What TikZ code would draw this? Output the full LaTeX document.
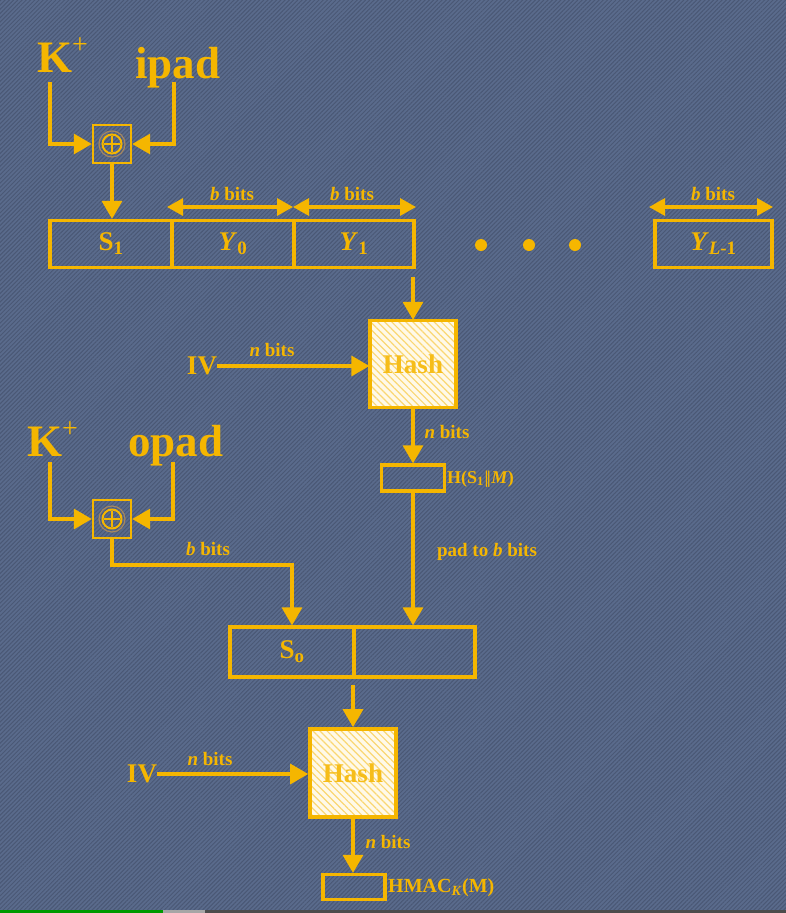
\documentclass[tikz,border=0pt]{standalone}
\usepackage{fontspec}
\setmainfont{Liberation Serif}
\usetikzlibrary{arrows.meta,patterns.meta,calc}
\definecolor{bgc}{RGB}{90,107,140}
\definecolor{hatc}{RGB}{74,88,117}
\definecolor{yel}{RGB}{245,182,0}
\definecolor{hashfill}{RGB}{255,249,232}
\definecolor{ringc}{RGB}{165,135,95}
\newcommand{\fs}[1]{\fontsize{#1}{#1}\selectfont}
\begin{document}
\begin{tikzpicture}[x=1pt,y=-1pt,
  ln/.style={draw=yel, line width=3.2pt},
  arr/.style={ln, -{Triangle[length=18pt,width=20pt]}},
  darr/.style={ln, {Triangle[length=16pt,width=17pt]}-{Triangle[length=16pt,width=17pt]}},
  lab/.style={text=yel, font=\bfseries\fs{19}, inner sep=0pt},
  big/.style={text=yel, font=\bfseries\fs{45}, inner sep=0pt},
  mid/.style={text=yel, font=\bfseries\fs{27}, inner sep=0pt},
  cell/.style={draw=yel, line width=3.2pt, inner sep=0pt, text=yel, font=\bfseries\fs{27}},
  xorbox/.style={draw=yel, line width=2.4pt, minimum width=38pt, minimum height=38pt, inner sep=0pt},
  hashbox/.style={draw=yel, line width=3.6pt, minimum width=86pt, minimum height=87pt, inner sep=0pt,
     preaction={fill=hashfill}, pattern={Lines[angle=-45,distance=5pt,line width=1.2pt]}, pattern color=yel!55,
     text=yel!90!white, font=\bfseries\fs{27}},
  dotc/.style={fill=yel, circle, inner sep=0pt, minimum size=12pt}
]
\useasboundingbox (0,0) rectangle (786,913);
% background
\fill[bgc] (0,0) rectangle (786,913);
\fill[pattern={Lines[angle=45,distance=3pt,line width=1pt]}, pattern color=hatc] (0,0) rectangle (786,913);
% progress bar
\fill[green!60!black] (0,910) rectangle (163,913);
\fill[gray!70] (163,910) rectangle (205,913);
\fill[black!70] (205,910) rectangle (786,913);

% ---------- inner part ----------
\node[big, anchor=base west] (kp1) at (37,72) {K\raisebox{0.42em}{\mdseries\fs{28}+}};
\node[big, anchor=base west] (ipad) at (135,78) {ipad};
\node[xorbox] (x1) at (112,144) {};
\draw[ringc, line width=1.2pt] (x1.center) circle (13);
\draw[yel, line width=2pt] (x1.center) circle (9.5);
\draw[yel, line width=2.2pt] ($(x1.center)+(-8,0)$) -- ($(x1.center)+(8,0)$) ($(x1.center)+(0,-8)$) -- ($(x1.center)+(0,8)$);
\coordinate (k1s) at (50,82);
\coordinate (i1s) at (174,82);
\draw[arr] (k1s) |- (x1.west);
\draw[arr] (i1s) |- (x1.east);

\node[cell, minimum width=122pt, minimum height=47pt] (s1) at (111,244) {S\textsubscript{1}};
\node[cell, minimum width=122pt, minimum height=47pt] (y0) at (233,244) {\textit{Y}\textsubscript{0}};
\node[cell, minimum width=120pt, minimum height=47pt] (y1) at (354,244) {\textit{Y}\textsubscript{1}};
\node[cell, minimum width=117pt, minimum height=47pt] (yl) at (713.5,244) {\textit{Y}\textsubscript{\textit{L}-1}};
\draw[arr] (x1.south) -- (x1.south |- s1.north);

\node[dotc] (d1) at (481,245) {};
\node[dotc] (d2) at (529,245) {};
\node[dotc] (d3) at (575,245) {};

\coordinate (b1a) at (167,207); \coordinate (b1b) at (293,207);
\coordinate (b2a) at (293,207); \coordinate (b2b) at (416,207);
\coordinate (b3a) at (649,207); \coordinate (b3b) at (773,207);
\draw[darr] (b1a) -- (b1b);
\draw[darr] (b2a) -- (b2b);
\draw[darr] (b3a) -- (b3b);
\node[lab] (lb1) at (232,194) {\textit{b} bits};
\node[lab] (lb2) at (352,194) {\textit{b} bits};
\node[lab] (lb3) at (713,194) {\textit{b} bits};

\node[hashbox] (h1) at (413,364) {Hash};
\coordinate (y1o) at (413,277);
\draw[arr] (y1o) -- (h1.north);
\node[mid] (iv1) at (202,366) {IV};
\draw[arr] (iv1.east) -- (h1.west |- iv1.east);
\node[lab] (nb1) at (272,350) {\textit{n} bits};

\node[draw=yel, line width=3.2pt, minimum width=63pt, minimum height=26pt, inner sep=0pt] (hb) at (413,478) {};
\draw[arr] (h1.south) -- (hb.north);
\node[lab] (nb2) at (447,432) {\textit{n} bits};
\node[lab, anchor=west, font=\bfseries\fs{18}] (hbl) at (447,479) {H(S\textsubscript{1}\kern0.5pt|\kern-1.5pt|\kern0.5pt\textit{M})};

% ---------- outer part ----------
\node[big, anchor=base west] (kp2) at (27,456) {K\raisebox{0.42em}{\mdseries\fs{28}+}};
\node[big, anchor=base west] (opad) at (128,456) {opad};
\node[xorbox] (x2) at (112,519) {};
\draw[ringc, line width=1.2pt] (x2.center) circle (13);
\draw[yel, line width=2pt] (x2.center) circle (9.5);
\draw[yel, line width=2.2pt] ($(x2.center)+(-8,0)$) -- ($(x2.center)+(8,0)$) ($(x2.center)+(0,-8)$) -- ($(x2.center)+(0,8)$);
\coordinate (k2s) at (50,462);
\coordinate (o2s) at (173,462);
\draw[arr] (k2s) |- (x2.west);
\draw[arr] (o2s) |- (x2.east);

\node[cell, minimum width=124pt, minimum height=50pt] (so) at (292,652) {S\textsubscript{o}};
\node[cell, minimum width=121pt, minimum height=50pt] (sr) at (414.5,652) {};
\coordinate (bend) at (112,565);
\draw[arr] (x2.south) -- (bend) -| (so.north);
\node[lab] (lb4) at (208,549) {\textit{b} bits};
\draw[arr] (hb.south) -- (hb.south |- sr.north);
\node[lab] (pad) at (487,552) {pad to \textit{b} bits};

\node[hashbox, minimum height=88pt] (h2) at (353,773) {Hash};
\coordinate (soo) at (353,685);
\draw[arr] (soo) -- (h2.north);
\node[mid] (iv2) at (142,774) {IV};
\draw[arr] (iv2.east) -- (h2.west |- iv2.east);
\node[lab] (nb3) at (210,759) {\textit{n} bits};

\node[draw=yel, line width=3.2pt, minimum width=62pt, minimum height=25pt, inner sep=0pt] (out) at (354,887) {};
\draw[arr] (h2.south) -- (h2.south |- out.north);
\node[lab] (nb4) at (388,842) {\textit{n} bits};
\node[lab, anchor=west, font=\bfseries\fs{20}] (outl) at (388,888) {HMAC\textsubscript{\textit{K}}(M)};
\end{tikzpicture}
\end{document}
